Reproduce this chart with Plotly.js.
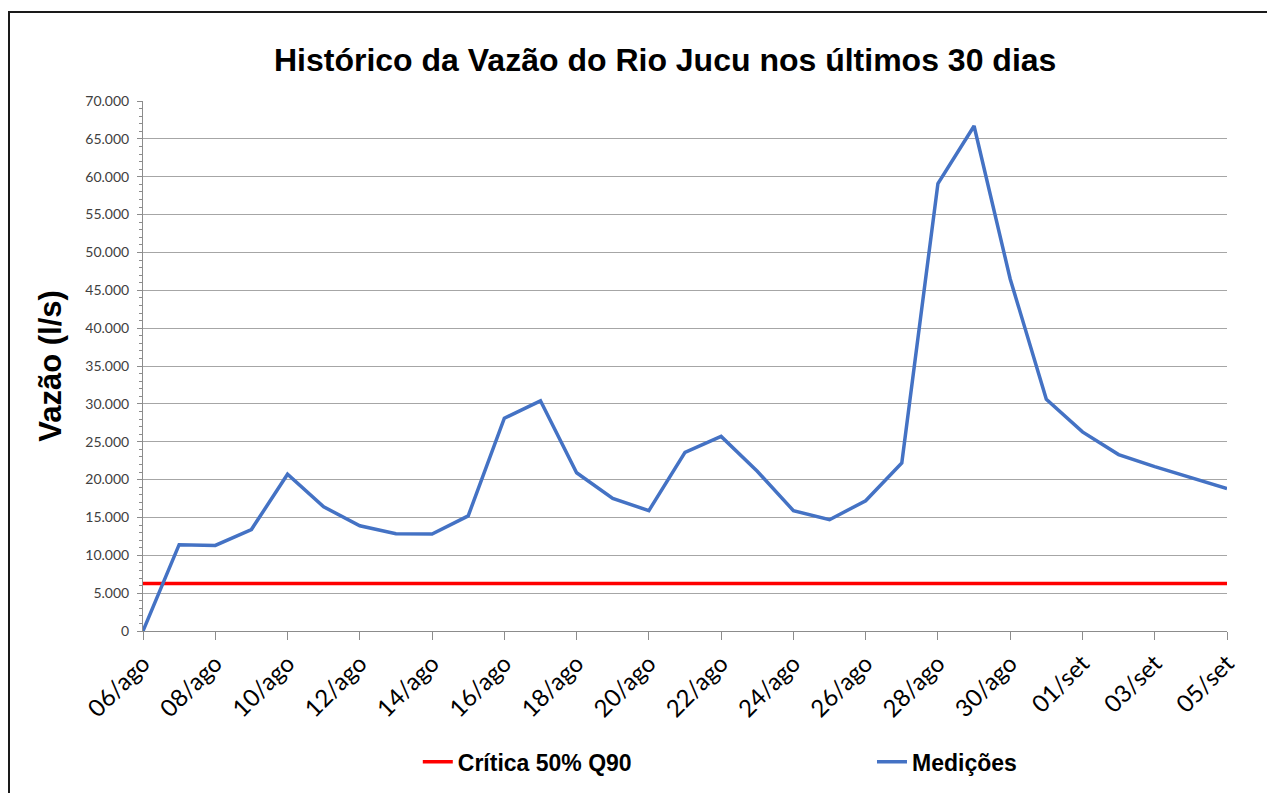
<!DOCTYPE html>
<html>
<head>
<meta charset="utf-8">
<script src="https://cdn.plot.ly/plotly-3.0.1.min.js"></script>
<style>
  html, body { margin: 0; padding: 0; background: #fff; overflow: hidden; }
  #chart { width: 1267px; height: 793px; }
  #frame { position: absolute; left: 8px; top: 11px; width: 1400px; height: 900px;
           border-left: 2px solid #1a1a1a; border-top: 2px solid #1a1a1a; pointer-events: none; }
</style>
</head>
<body>
<div id="chart"></div>
<div id="frame"></div>
<script>
const dias = ["06/ago","07/ago","08/ago","09/ago","10/ago","11/ago","12/ago","13/ago","14/ago","15/ago",
              "16/ago","17/ago","18/ago","19/ago","20/ago","21/ago","22/ago","23/ago","24/ago","25/ago",
              "26/ago","27/ago","28/ago","29/ago","30/ago","31/ago","01/set","02/set","03/set","04/set","05/set"];
const medicoes = [0, 11400, 11300, 13400, 20700, 16400, 13900, 12850, 12800, 15200,
                  28100, 30400, 20900, 17500, 15900, 23600, 25700, 21100, 15900, 14700,
                  17200, 22200, 59100, 66700, 46500, 30600, 26300, 23300, 21700, 20300, 18800];
const critica = [6270, 6270, 6270, 6270, 6270, 6270, 6270, 6270, 6270, 6270,
                 6270, 6270, 6270, 6270, 6270, 6270, 6270, 6270, 6270, 6270,
                 6270, 6270, 6270, 6270, 6270, 6270, 6270, 6270, 6270, 6270, 6270];
const rotulosX = ["06/ago","08/ago","10/ago","12/ago","14/ago","16/ago","18/ago","20/ago",
                  "22/ago","24/ago","26/ago","28/ago","30/ago","01/set","03/set","05/set"];
const tituloGrafico = "Histórico da Vazão do Rio Jucu nos últimos 30 dias";
const tituloY = "Vazão (l/s)";

const traces = [
  { x: dias, y: critica, type: "scatter", mode: "lines", name: "Crítica 50% Q90",
    line: { color: "#FF0000", width: 3.5 }, legend: "legend" },
  { x: dias, y: medicoes, type: "scatter", mode: "lines", name: "Medições",
    line: { color: "#4472C4", width: 3.5 }, legend: "legend2" }
];

const legendFont = { family: "Liberation Sans, Arial, sans-serif", size: 23, color: "#000", weight: "bold" };

const layout = {
  width: 1267, height: 793,
  paper_bgcolor: "#ffffff", plot_bgcolor: "#ffffff",
  separators: ",.",
  margin: { l: 143, r: 40, t: 101, b: 162, autoexpand: false },
  title: { text: "<b>" + tituloGrafico + "</b>", x: 0.525, xanchor: "center", y: 0.925, yanchor: "middle",
           font: { family: "Liberation Sans, Arial, sans-serif", size: 32, color: "#000" } },
  xaxis: {
    type: "category", range: [0, 30],
    tickmode: "array", tickvals: rotulosX, ticktext: rotulosX,
    tickangle: -45, ticks: "outside", ticklen: 8, tickcolor: "#8c8c8c", tickwidth: 1,
    showline: true, linecolor: "#8c8c8c", linewidth: 1,
    showgrid: false, zeroline: false,
    tickfont: { family: "Lato, Carlito, sans-serif", size: 24, color: "#000" }
  },
  yaxis: {
    range: [0, 70000], dtick: 5000, tick0: 0, tickformat: ",d",
    ticks: "outside", ticklen: 5, tickcolor: "#8c8c8c", tickwidth: 1,
    showline: true, linecolor: "#8c8c8c", linewidth: 1,
    showgrid: true, gridcolor: "#a6a6a6", gridwidth: 1, zeroline: false,
    minor: { dtick: 1000, ticks: "outside", ticklen: 3, tickcolor: "#8c8c8c", showgrid: false },
    ticklabelstandoff: 5,
    tickfont: { family: "Lato, Carlito, sans-serif", size: 14, color: "#404040" },
    title: { text: "<b>" + tituloY + "</b>", standoff: 14,
             font: { family: "Liberation Sans, Arial, sans-serif", size: 31, color: "#000" } }
  },
  showlegend: true,
  legend: {
    orientation: "h", x: 0.2535, xanchor: "left", y: -0.247, yanchor: "middle",
    font: legendFont, bgcolor: "rgba(0,0,0,0)"
  },
  legend2: {
    orientation: "h", x: 0.6725, xanchor: "left", y: -0.247, yanchor: "middle",
    font: legendFont, bgcolor: "rgba(0,0,0,0)"
  }
};

Plotly.newPlot("chart", traces, layout, { displayModeBar: false, staticPlot: true });
</script>
</body>
</html>
